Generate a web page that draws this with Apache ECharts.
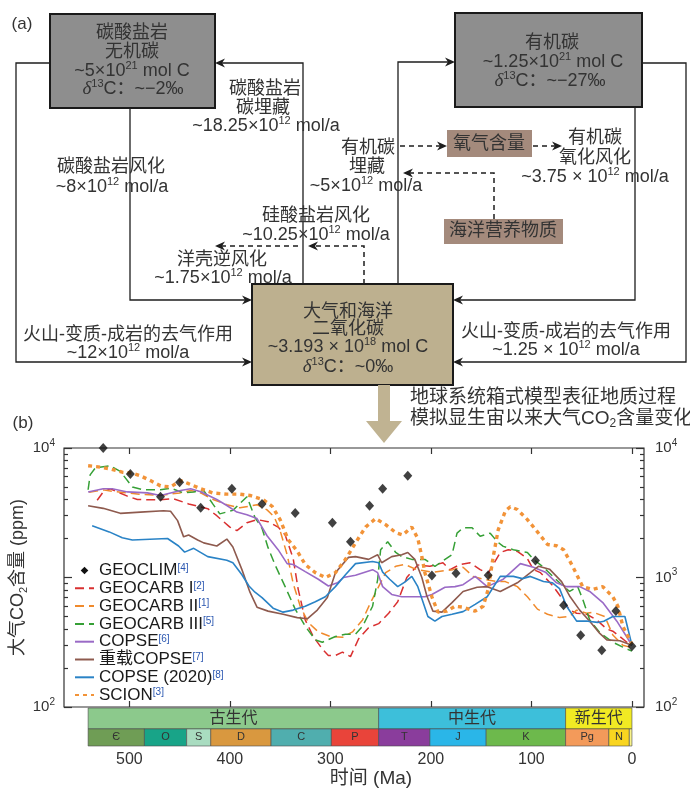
<!DOCTYPE html>
<html><head><meta charset="utf-8">
<script src="https://cdn.jsdelivr.net/npm/echarts@6/dist/echarts.min.js"></script>
<style>html,body{margin:0;padding:0;background:#fff}#c{width:690px;height:788px}</style>
</head><body><div id="c"></div>
<script>
// ---------------- DATA ----------------
const xTickValues = [0, 100, 200, 300, 400, 500];
const yMajorValues = [100, 1000, 10000];
const yMinorValues = [200,300,400,500,600,700,800,900,2000,3000,4000,5000,6000,7000,8000,9000];
const seriesNames = ['GEOCLIM','GEOCARB I','GEOCARB II','GEOCARB III','COPSE','重载COPSE','COPSE (2020)','SCION'];
const seriesRefs = ['[4]','[2]','[1]','[5]','[6]','[7]','[8]','[3]'];

const GEOCLIM = [[526,10000],[499,6300],[469,4200],[450,5450],[429,3450],[398,4850],[368,3700],[335,3150],[298,2650],[280,1890],[261,3580],[248,4850],[223,6100],[199,1035],[175,1080],[143,1040],[96,1350],[68,610],[51,358],[30,274],[16,550],[0,294]];
const GEOCARB_I = [[532,3950],[526,4580],[519,4840],[502,4250],[492,4000],[472,3980],[456,4050],[441,3700],[422,3400],[413,3000],[400,2450],[393,2300],[383,2650],[373,2800],[362,2700],[352,2450],[345,2130],[337,1400],[332,810],[325,470],[317,350],[308,280],[302,250],[295,250],[288,265],[280,245],[272,335],[262,410],[252,440],[242,530],[233,650],[224,1000],[213,1250],[201,1220],[188,1300],[181,1150],[171,1260],[161,1300],[151,1150],[143,1080],[131,1560],[123,1640],[114,1590],[104,1400],[98,1150],[91,1090],[79,870],[69,680],[62,560],[55,530],[45,520],[35,470],[25,400],[19,385],[12,350],[5,316],[0,300]];
const GEOCARB_II = [[540,4550],[526,4750],[514,4600],[490,4400],[470,4300],[450,4500],[439,4700],[429,4500],[416,3980],[403,3650],[390,3450],[373,3650],[363,3330],[356,2950],[350,2300],[343,1500],[337,900],[330,600],[322,450],[312,380],[300,350],[288,345],[278,380],[268,470],[260,640],[252,850],[245,1090],[235,1220],[226,1260],[214,1150],[198,1100],[178,1150],[168,1200],[158,1020],[148,970],[134,930],[126,930],[114,850],[104,710],[94,570],[84,520],[72,490],[62,500],[55,560],[45,530],[39,540],[27,500],[19,360],[9,300],[2,290]];
const GEOCARB_III = [[541,4760],[539,6200],[534,7000],[519,7300],[509,6600],[497,5000],[486,4760],[469,4760],[459,4900],[446,4500],[436,4580],[426,4700],[417,3700],[410,3100],[397,3300],[383,4200],[375,2900],[368,2400],[362,1700],[355,1250],[345,850],[335,570],[325,420],[315,330],[308,316],[295,350],[285,365],[275,365],[268,420],[258,600],[253,960],[250,1640],[243,1890],[235,1560],[229,1450],[219,1380],[206,1380],[196,1220],[179,1500],[174,2200],[168,2420],[159,2420],[151,2080],[141,2200],[134,1890],[128,1740],[118,1640],[104,1560],[98,1380],[89,1220],[72,910],[62,780],[54,850],[49,680],[42,470],[32,375],[19,316],[9,290],[0,270]];
const COPSE = [[541,4580],[526,4840],[517,4840],[502,4580],[482,4500],[469,4300],[449,4700],[439,4840],[429,4590],[413,4000],[403,3600],[393,3200],[383,3050],[373,2850],[363,2100],[352,1640],[343,1280],[337,1260],[325,1110],[312,970],[302,860],[293,910],[287,1000],[275,1040],[258,1150],[253,1090],[248,850],[239,740],[229,710],[206,710],[199,740],[186,840],[176,850],[168,880],[156,1020],[144,850],[128,970],[111,1280],[98,1200],[86,1100],[75,910],[65,850],[52,850],[42,780],[29,640],[15,460],[0,300]];
const COPSE_HEAVY = [[541,3580],[526,3420],[509,3130],[489,3200],[466,3280],[459,3250],[452,2750],[446,2060],[441,2130],[432,1950],[426,1850],[413,1750],[403,1980],[397,1720],[388,1150],[380,770],[373,590],[362,550],[347,520],[333,490],[323,480],[313,560],[303,700],[295,1090],[282,1430],[275,1450],[262,1380],[253,1500],[249,1300],[239,1450],[229,1500],[223,1560],[216,1380],[209,1000],[204,720],[198,550],[189,540],[179,640],[168,780],[154,840],[144,850],[131,780],[114,910],[101,1090],[93,1220],[82,1160],[70,930],[62,720],[52,560],[42,460],[32,370],[25,330],[12,325],[0,300]];
const COPSE_2020 = [[537,2510],[520,2250],[507,2030],[497,1950],[462,2000],[451,1750],[445,1570],[436,1680],[422,1450],[403,1360],[397,1300],[388,1050],[381,860],[375,770],[368,700],[357,580],[347,540],[337,560],[325,600],[315,650],[305,710],[295,850],[285,1050],[275,1280],[258,1330],[252,1300],[248,1100],[241,970],[233,850],[226,920],[219,1020],[213,850],[203,500],[196,460],[189,500],[179,520],[168,545],[156,620],[144,710],[131,1020],[118,1020],[109,980],[101,1020],[88,930],[79,910],[72,820],[65,600],[55,460],[44,460],[34,450],[28,460],[19,500],[7,500],[0,300]];
const SCION = [[541,7300],[531,7150],[519,6900],[507,6500],[497,6400],[489,6100],[479,5600],[469,5100],[459,5000],[449,5600],[441,5300],[429,4850],[417,4500],[403,4400],[390,4400],[380,4300],[367,4000],[358,3550],[350,2800],[342,1960],[333,1600],[325,1260],[315,1090],[305,1000],[295,1090],[285,1380],[275,1850],[265,2450],[255,2850],[245,2560],[235,2220],[228,2130],[219,2450],[213,2000],[209,1450],[206,1090],[199,710],[193,540],[184,550],[176,600],[168,590],[156,550],[148,600],[143,810],[138,1450],[133,2340],[126,3250],[121,3520],[114,3350],[104,2800],[94,2250],[84,1800],[75,1760],[68,1640],[59,1220],[49,850],[39,810],[29,850],[19,710],[14,600],[9,420],[0,305]];

const eraNames = ['古生代','中生代','新生代'];
const eraStart = [541, 252, 66];
const eraEnd = [252, 66, 0];
const periodNames = ['Є','O','S','D','C','P','T','J','K','Pg','N',''];
const periodStart = [541,485,443,419,359,299,252,201,145,66,23,2.6];
const periodEnd = [485,443,419,359,299,252,201,145,66,23,2.6,0];

// ---------------- STYLE ----------------
const FF = "'Liberation Sans','Noto Sans CJK SC',sans-serif";
const TXT = '#333';
const eraColors = ['#8cc98c','#3dbfda','#f1ea23'];
const periodColors = ['#6f9d55','#18a488','#a9dcc0','#d9983f','#50aeae','#e9443a','#8a3d9c','#2ab6e8','#6db94c','#f39a5a','#f9d520','#f9f48a'];

const chart = echarts.init(document.getElementById('c'), null, {renderer: 'canvas'});

// ------------- diagram (a) helpers -------------
const gRich = {
  s: {fontSize: 11, verticalAlign: 'top', lineHeight: 12, fontFamily: FF, fill: TXT},
  b: {fontSize: 12, verticalAlign: 'bottom', lineHeight: 12, fontFamily: FF, fill: TXT},
  d: {fontSize: 19, fontStyle: 'italic', fontFamily: "'Liberation Serif','DejaVu Serif',serif", fill: TXT, lineHeight: 22}
};
function T(x, y, text, size, align) {
  const a = align || 'center';
  return {type: 'text', x: x, y: y, silent: true, z: 20,
    style: {text: text, fill: TXT, fontSize: size || 18, fontFamily: FF,
      align: a, verticalAlign: 'middle', textAlign: a, textVerticalAlign: 'middle',
      lineHeight: 22, rich: gRich}};
}
const LC = '#1e1e1e';
function PL(points, dashed) {
  return {type: 'polyline', silent: true, z: 15, shape: {points: points},
    style: {stroke: LC, lineWidth: dashed ? 1.5 : 1.3, fill: null, lineDash: dashed ? [5, 4] : null}};
}
function AR(tx, ty, dir) {
  const L = 10, W = 4.5, N = 7;
  let p;
  if (dir === 'r') p = [[tx,ty],[tx-L,ty-W],[tx-N,ty],[tx-L,ty+W]];
  else p = [[tx,ty],[tx+L,ty-W],[tx+N,ty],[tx+L,ty+W]];
  return {type: 'polygon', silent: true, z: 16, shape: {points: p}, style: {fill: LC}};
}
function BOX(x, y, w, h, fill, stroke) {
  return {type: 'rect', silent: true, z: 10, shape: {x: x, y: y, width: w, height: h},
    style: {fill: fill, stroke: stroke ? '#1a1a1a' : null, lineWidth: stroke ? 2 : 0}};
}

const graphics = [
  T(22, 24, '(a)', 17), T(23, 423, '(b)', 17),
  BOX(50, 14, 165, 94, '#8e8e8e', true),
  BOX(455, 13, 187, 94, '#8e8e8e', true),
  BOX(252, 284, 201, 101, '#bdb08f', true),
  BOX(447, 130, 85, 27, '#a48a7c', false),
  BOX(444, 219, 119, 25, '#a48a7c', false),
  T(132, 33, '碳酸盐岩'), T(132, 52, '无机碳'), T(132, 71, '~5×10{s|21} mol C'), T(133, 89, '{d|δ}{s|13}C：~−2‰'),
  T(552, 43, '有机碳'), T(553, 62, '~1.25×10{s|21} mol C'), T(550, 81, '{d|δ}{s|13}C：~−27‰'),
  T(348, 312, '大气和海洋'), T(348, 329, '二氧化碳'), T(348, 347, '~3.193 × 10{s|18} mol C'), T(348, 367, '{d|δ}{s|13}C：~0‰'),
  T(128, 335, '火山-变质-成岩的去气作用'), T(128, 353, '~12×10{s|12} mol/a'),
  T(111, 167, '碳酸盐岩风化'), T(112, 187, '~8×10{s|12} mol/a'),
  T(265, 89, '碳酸盐岩'), T(263, 108, '碳埋藏'), T(266, 126, '~18.25×10{s|12} mol/a'),
  T(368, 148, '有机碳'), T(367, 167, '埋藏'), T(366, 186, '~5×10{s|12} mol/a'),
  T(595, 138, '有机碳'), T(595, 158, '氧化风化'), T(595, 177, '~3.75 × 10{s|12} mol/a'),
  T(566, 332, '火山-变质-成岩的去气作用'), T(566, 350, '~1.25 × 10{s|12} mol/a'),
  T(316, 216, '硅酸盐岩风化'), T(316, 235, '~10.25×10{s|12} mol/a'),
  T(222, 260, '洋壳逆风化'), T(223, 278, '~1.75×10{s|12} mol/a'),
  T(489, 144, '氧气含量'), T(503, 231, '海洋营养物质'),
  T(410, 398, '地球系统箱式模型表征地质过程', 19, 'left'),
  T(410, 419, '模拟显生宙以来大气CO{b|2}含量变化', 19, 'left'),
  PL([[50,63],[16,63],[16,362],[245,362]]), AR(252, 362, 'r'),
  PL([[130,108],[130,300],[245,300]]), AR(252, 300, 'r'),
  PL([[303,284],[303,63],[222,63]]), AR(215, 63, 'l'),
  PL([[398,284],[398,62],[448,62]]), AR(455, 62, 'r'),
  PL([[635,107],[635,300],[460,300]]), AR(453, 300, 'l'),
  PL([[642,63],[686,63],[686,362],[460,362]]), AR(453, 362, 'l'),
  PL([[400,146],[440,146]], true), AR(447, 146, 'r'),
  PL([[533,146],[555,146]], true), AR(562, 146, 'r'),
  PL([[494,219],[494,173],[410,173]], true), AR(403, 173, 'l'),
  PL([[364,284],[364,246],[315,246]], true), AR(308, 246, 'l'),
  PL([[298,246],[222,246]], true), AR(215, 246, 'l'),
  {type: 'polygon', silent: true, z: 10, shape: {points: [[378,385],[390,385],[390,421],[402,421],[384,443],[366,421],[378,421]]}, style: {fill: '#c0b392'}}
];

// ------------- chart (b) -------------
const AGE_MIN = -12, AGE_MAX = 565;
const tickLine = {color: '#333', width: 1.2};
const expFmt = v => '{b|10}{e|' + Math.round(Math.log10(v)) + '}';
const yRich = {
  b: {fontSize: 15, color: TXT, fontFamily: FF, lineHeight: 20},
  e: {fontSize: 10, color: TXT, fontFamily: FF, verticalAlign: 'top', lineHeight: 10}
};
function logAxis(pos, major, labels) {
  const ax = {type: 'log', logBase: 10, min: 100, max: 10000, gridIndex: 0, position: pos,
    axisLine: {show: false, onZero: false}, splitLine: {show: false},
    minorTick: {show: false}, minorSplitLine: {show: false},
    axisTick: {show: true, inside: true, length: major ? 8 : 4, customValues: major ? yMajorValues : yMinorValues, lineStyle: tickLine},
    axisLabel: labels ? {show: true, customValues: labels, formatter: expFmt, margin: pos === 'left' ? 9 : 11, rich: yRich} : {show: false}
  };
  return ax;
}
const yLeft = logAxis('left', true, [100, 10000]);
yLeft.name = '大气CO{sub|2}含量 (ppm)';
yLeft.nameLocation = 'middle';
yLeft.nameRotate = 90;
yLeft.nameGap = 35;
yLeft.nameMoveOverlap = false;
yLeft.nameTextStyle = {fontSize: 18, color: TXT, fontFamily: FF, lineHeight: 22,
  rich: {sub: {fontSize: 11, color: TXT, fontFamily: FF, verticalAlign: 'bottom', lineHeight: 11}}};

function xAx(grid, pos, ticks, labels) {
  return {type: 'value', gridIndex: grid, min: AGE_MIN, max: AGE_MAX, inverse: true, position: pos,
    axisLine: {show: false, onZero: false}, splitLine: {show: false},
    axisTick: ticks ? {show: true, inside: true, length: 6, customValues: xTickValues, lineStyle: tickLine} : {show: false},
    axisLabel: labels ? {show: true, customValues: xTickValues, fontSize: 16, color: TXT, fontFamily: FF, margin: 6} : {show: false}
  };
}
const xBottomLabels = xAx(1, 'bottom', false, true);
xBottomLabels.name = '时间 (Ma)';
xBottomLabels.nameLocation = 'middle';
xBottomLabels.nameGap = 23;
xBottomLabels.nameTextStyle = {fontSize: 19, color: TXT, fontFamily: FF, verticalAlign: 'top', padding: [0, 0, 0, 34]};

function lineS(name, data, color, width, dash, z) {
  return {name: name, type: 'line', data: data, xAxisIndex: 0, yAxisIndex: 0,
    symbol: 'none', showSymbol: false, silent: true, z: z || 2,
    lineStyle: {color: color, width: width, type: dash, cap: 'butt'}, itemStyle: {color: color}};
}
function band(names, colors, y0, y1, fs) {
  return function (params, api) {
    const i = params.dataIndex;
    const a = api.coord([api.value(0), y0]);
    const b = api.coord([api.value(1), y1]);
    const x = Math.min(a[0], b[0]), w = Math.abs(b[0] - a[0]);
    const y = Math.min(a[1], b[1]), h = Math.abs(b[1] - a[1]);
    return {type: 'group', children: [
      {type: 'rect', shape: {x: x, y: y, width: w, height: h}, style: {fill: colors[i], stroke: '#4a4a4a', lineWidth: 0.6}},
      {type: 'text', style: {text: names[i], x: x + w / 2, y: y + h / 2, align: 'center', verticalAlign: 'middle',
        textAlign: 'center', textVerticalAlign: 'middle', fill: TXT, fontSize: fs, fontFamily: FF}}
    ]};
  };
}

const refMap = {};
seriesNames.forEach((n, i) => refMap[n] = seriesRefs[i]);
const legendData = seriesNames.map((n, i) => i === 0
  ? {name: n, icon: 'path://M0,0M20,12M10,2L14,6L10,10L6,6Z', itemStyle: {opacity: 1, color: '#111'}}
  : {name: n, itemStyle: {opacity: 0}});

const option = {
  animation: false,
  backgroundColor: '#fff',
  textStyle: {fontFamily: FF},
  graphic: {elements: graphics},
  grid: [
    {left: 64, top: 448, width: 580, height: 259, show: true, borderColor: '#333', borderWidth: 1.2, backgroundColor: 'transparent', containLabel: false, outerBoundsMode: 'none'},
    {left: 64, top: 708, width: 580, height: 38, show: false, containLabel: false, outerBoundsMode: 'none'}
  ],
  xAxis: [xAx(0, 'bottom', true, false), xAx(0, 'top', true, false), xBottomLabels],
  yAxis: [yLeft, logAxis('left', false, null), logAxis('right', true, [100, 1000, 10000]), logAxis('right', false, null),
    {type: 'value', gridIndex: 1, min: 0, max: 2, show: false, axisLine: {onZero: false}}],
  legend: {
    data: legendData,
    orient: 'vertical', left: 74, top: 562, itemWidth: 19, itemHeight: 12, itemGap: 0.8, padding: 0,
    selectedMode: false,
    textStyle: {fontSize: 17, color: '#1a1a1a', fontFamily: FF, lineHeight: 15,
      rich: {r: {fontSize: 10, color: '#2a56b0', fontFamily: FF, verticalAlign: 'top', lineHeight: 10}}},
    formatter: n => n + '{r|' + refMap[n] + '}'
  },
  series: [
    lineS('GEOCARB I', GEOCARB_I, '#d93030', 1.5, [9, 5], 3),
    lineS('GEOCARB II', GEOCARB_II, '#f08a2c', 1.5, [9, 5], 3),
    lineS('GEOCARB III', GEOCARB_III, '#36a036', 1.5, [9, 5], 3),
    lineS('COPSE', COPSE, '#9a6ac6', 1.6, 'solid', 4),
    lineS('重载COPSE', COPSE_HEAVY, '#8e5a4e', 1.6, 'solid', 4),
    lineS('COPSE (2020)', COPSE_2020, '#2a83c6', 1.6, 'solid', 4),
    lineS('SCION', SCION, '#f29338', 3.4, [4, 4], 5),
    {name: 'GEOCLIM', type: 'scatter', data: GEOCLIM, xAxisIndex: 0, yAxisIndex: 0, symbol: 'diamond', symbolSize: [9, 10],
      itemStyle: {color: '#111'}, z: 8, silent: true, clip: false},
    {name: 'eras', type: 'custom', xAxisIndex: 2, yAxisIndex: 4, silent: true, clip: false,
      data: eraStart.map((s, i) => [s, eraEnd[i], 1]), encode: {x: [0, 1], y: 2},
      renderItem: band(eraNames, eraColors, 0.9, 2, 16)},
    {name: 'periods', type: 'custom', xAxisIndex: 2, yAxisIndex: 4, silent: true, clip: false,
      data: periodStart.map((s, i) => [s, periodEnd[i], 0.5]), encode: {x: [0, 1], y: 2},
      renderItem: band(periodNames, periodColors, 0, 0.9, 11)}
  ]
};
chart.setOption(option);
</script></body></html>
